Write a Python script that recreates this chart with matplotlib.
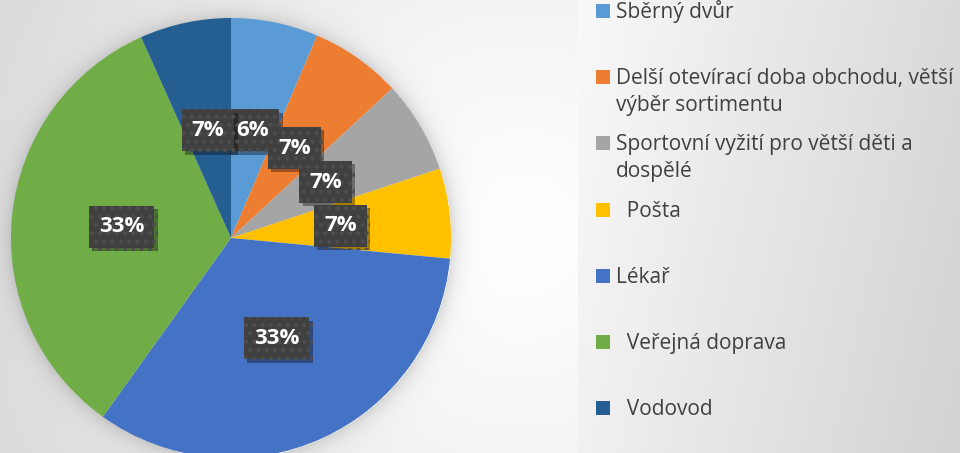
import numpy as np
import matplotlib
matplotlib.use("Agg")
import matplotlib.pyplot as plt
from matplotlib.patches import Rectangle
import matplotlib.transforms as mtransforms
import matplotlib.patheffects as pe

# ---- data ----
categories = ["Sběrný dvůr",
              "Delší otevírací doba obchodu, větší\nvýběr sortimentu",
              "Sportovní vyžití pro větší děti a\ndospělé",
              "  Pošta",
              "Lékař",
              "  Veřejná doprava",
              "  Vodovod"]
values = [6.4, 6.7, 6.8, 6.6, 33.4, 33.4, 6.7]
colors = ["#5B9BD5", "#ED7D31", "#A5A5A5", "#FFC000", "#4472C4", "#70AD47", "#255E91"]

W, H = 960, 453
plt.rcParams['font.family'] = ['Open Sans', 'DejaVu Sans']
plt.rcParams['hatch.linewidth'] = 1.8

fig = plt.figure(figsize=(W / 100, H / 100), dpi=100)

# ---- background (gradient + pie shadow) ----
cx, cy, R = 231, 238, 220
yy, xx = np.mgrid[0:H, 0:W].astype(float)
d_bg = np.hypot(xx - 520, yy - 235)
bg = 1.0 - 0.135 * np.clip(d_bg / 540, 0, 1) ** 1.3
d_pie = np.hypot(xx - cx, yy - cy)
shadow = np.where(d_pie > R, 0.13 * np.exp(-(d_pie - R) / 9.0), 0.0)
bg = bg * (1 - shadow)
leg = 0.975 - 0.12 * (xx - 578) / (W - 578) - 0.03 * yy / H
bg = np.where(xx >= 578, leg, bg)
img = np.dstack([bg, bg, bg])
axbg = fig.add_axes([0, 0, 1, 1])
axbg.imshow(img, extent=[0, W, H, 0], aspect='auto', interpolation='bilinear')
axbg.set_xlim(0, W)
axbg.set_ylim(H, 0)
axbg.axis('off')

# ---- pie ----
ax = fig.add_axes([(cx - R) / W, (H - cy - R) / H, 2 * R / W, 2 * R / H])
wedges, texts, autotexts = ax.pie(values, colors=colors, startangle=90, counterclock=False,
                                  radius=1, autopct=lambda p: f"{p:.0f}%", pctdistance=0.5,
                                  wedgeprops=dict(linewidth=0))
ax.set_xlim(-1, 1)
ax.set_ylim(-1, 1)
ax.set_aspect('equal')
ax.axis('off')

for t in autotexts:
    t.set_fontsize(16)
    t.set_fontweight('bold')
    t.set_color('white')
    t.set_zorder(5)

fig.canvas.draw()
renderer = fig.canvas.get_renderer()
for t in autotexts:
    bb = t.get_window_extent(renderer)
    xd, yd = ax.transData.transform(t.get_position())
    bw = bb.width + 20
    bh = 42
    rect = Rectangle((xd - bw / 2, yd - bh / 2), bw, bh, transform=mtransforms.IdentityTransform(),
                     fc='#404040', ec='#4d4d4d', lw=0, hatch='..', zorder=4, clip_on=False)
    rect.set_path_effects([pe.SimplePatchShadow(offset=(2.5, -2.5), shadow_rgbFace='black', alpha=0.35),
                           pe.Normal()])
    ax.add_artist(rect)

# ---- legend ----
line_h = 27
for i, (name, col) in enumerate(zip(categories, colors)):
    yc = 11 + 66.2 * i
    fig.add_artist(Rectangle((596 / W, 1 - (yc + 7) / H), 14 / W, 14 / H,
                             transform=fig.transFigure, fc=col, ec='none'))
    for k, line in enumerate(name.split("\n")):
        fig.text(616 / W, 1 - (yc + 7 + k * line_h) / H, line, ha='left', va='baseline',
                 fontsize=15, color='#404040')

fig.savefig("out.png", dpi=100)
